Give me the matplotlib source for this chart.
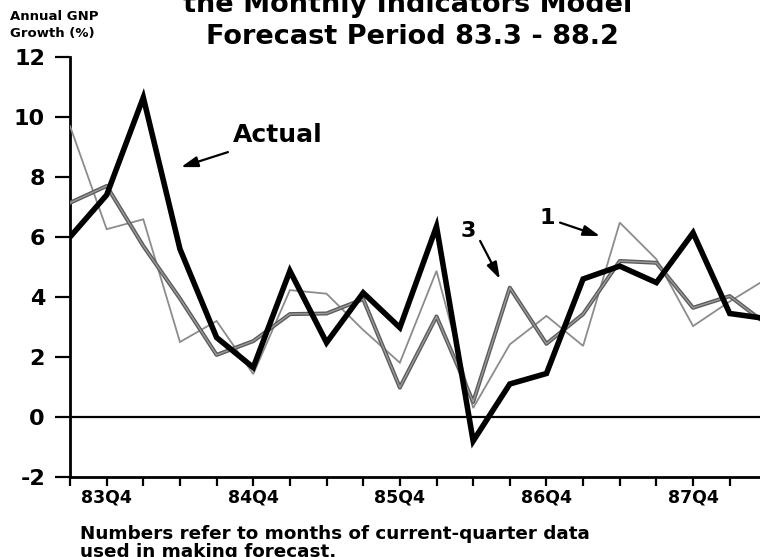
import matplotlib
matplotlib.use("Agg")
import matplotlib.pyplot as plt
import matplotlib.patheffects as pe
import numpy as np

# ---- data ----
quarters = ["83Q3", "83Q4", "84Q1", "84Q2", "84Q3", "84Q4", "85Q1", "85Q2",
            "85Q3", "85Q4", "86Q1", "86Q2", "86Q3", "86Q4", "87Q1", "87Q2",
            "87Q3", "87Q4", "88Q1", "88Q2"]
actual = [6.0, 7.4, 10.65, 5.6, 2.65, 1.65, 4.87, 2.48, 4.14, 2.98,
          6.35, -0.8, 1.1, 1.45, 4.6, 5.03, 4.48, 6.14, 3.45, 3.28]
forecast3 = [7.14, 7.7, 5.7, 3.95, 2.07, 2.53, 3.43, 3.45, 3.93, 0.98,
             3.35, 0.5, 4.31, 2.44, 3.43, 5.2, 5.14, 3.64, 4.03, 3.1]
forecast1 = [9.7, 6.26, 6.59, 2.5, 3.2, 1.43, 4.23, 4.11, 2.9, 1.81,
             4.87, 0.3, 2.42, 3.37, 2.37, 6.48, 5.26, 3.03, 3.85, 4.6]
labeled_quarters = ["83Q4", "84Q4", "85Q4", "86Q4", "87Q4"]
yticks = [-2, 0, 2, 4, 6, 8, 10, 12]
ytick_labels = ["-2", "0", "2", "4", "6", "8", "10", "12"]

title1 = "the Monthly Indicators Model"
title2 = "Forecast Period 83.3 - 88.2"
ylabel = "Annual GNP\nGrowth (%)"
note1 = "Numbers refer to months of current-quarter data"
note2 = "used in making forecast."

plt.rcParams['font.family'] = ['DejaVu Sans']
plt.rcParams['font.weight'] = 'bold'

W, H = 760, 557
fig = plt.figure(figsize=(W / 100, H / 100), dpi=100)
fig.patch.set_facecolor("white")

def fx(px):
    return px / W

def fy(py):
    return 1 - py / H

ax = fig.add_axes([fx(70), fy(477), fx(760) - fx(70), fy(57) - fy(477)])
x = np.arange(len(quarters))

ax.plot(x, forecast1, color="#8c8c8c", lw=1.3, zorder=3, solid_joinstyle="miter")
ax.plot(x, forecast3, color="#9a9a9a", lw=1.0, zorder=4,
        path_effects=[pe.Stroke(linewidth=2.9, foreground="#5a5a5a"), pe.Normal()])
ax.plot(x, actual, color="black", lw=4.0, zorder=5, solid_joinstyle="miter")
ax.axhline(0, color="black", lw=1.6, zorder=2)

ax.set_xlim(0, (760 - 70) / 36.65)
ax.set_ylim(-2, 12)

ax.spines["top"].set_visible(False)
ax.spines["right"].set_visible(False)
ax.spines["left"].set_linewidth(2.0)
ax.spines["bottom"].set_linewidth(2.0)

ax.set_yticks(yticks)
ax.set_yticklabels(ytick_labels, fontsize=16, fontweight="bold")
ax.tick_params(axis="y", direction="out", length=11, width=1.6, pad=7)

ax.set_xticks(x[:-1])
ax.set_xticklabels([q if q in labeled_quarters else "" for q in quarters[:-1]],
                   fontsize=12.5, fontweight="bold")
ax.tick_params(axis="x", direction="out", length=6.5, width=1.6, pad=1.5)

# annotations
arrow = dict(arrowstyle="-|>,head_length=1.0,head_width=0.32",
             color="black", lw=1.6, shrinkA=0, shrinkB=0)
ax.annotate("", xy=(3.03, 8.33), xytext=(4.31, 8.83), arrowprops=arrow)
ax.text(4.45, 9.4, "Actual", fontsize=18, fontweight="bold", ha="left", va="center")

ax.annotate("", xy=(11.73, 4.6), xytext=(11.19, 5.87), arrowprops=arrow)
ax.text(10.86, 6.2, "3", fontsize=16, fontweight="bold", ha="center", va="center")

ax.annotate("", xy=(14.46, 6.03), xytext=(13.37, 6.48), arrowprops=arrow)
ax.text(13.03, 6.65, "1", fontsize=16, fontweight="bold", ha="center", va="center")

# titles and notes
fig.text(fx(408), fy(12), title1, fontsize=19.5, fontweight="bold", ha="center", va="baseline")
fig.text(fx(412), fy(44), title2, fontsize=19.5, fontweight="bold", ha="center", va="baseline")
fig.text(fx(10), fy(37), ylabel, fontsize=9.5, fontweight="bold", ha="left", va="baseline",
         linespacing=1.35)
fig.text(fx(80), fy(539), note1, fontsize=13.2, fontweight="bold", ha="left", va="baseline")
fig.text(fx(80), fy(557), note2, fontsize=13.2, fontweight="bold", ha="left", va="baseline")

fig.savefig("out.png", dpi=100, facecolor="white")
